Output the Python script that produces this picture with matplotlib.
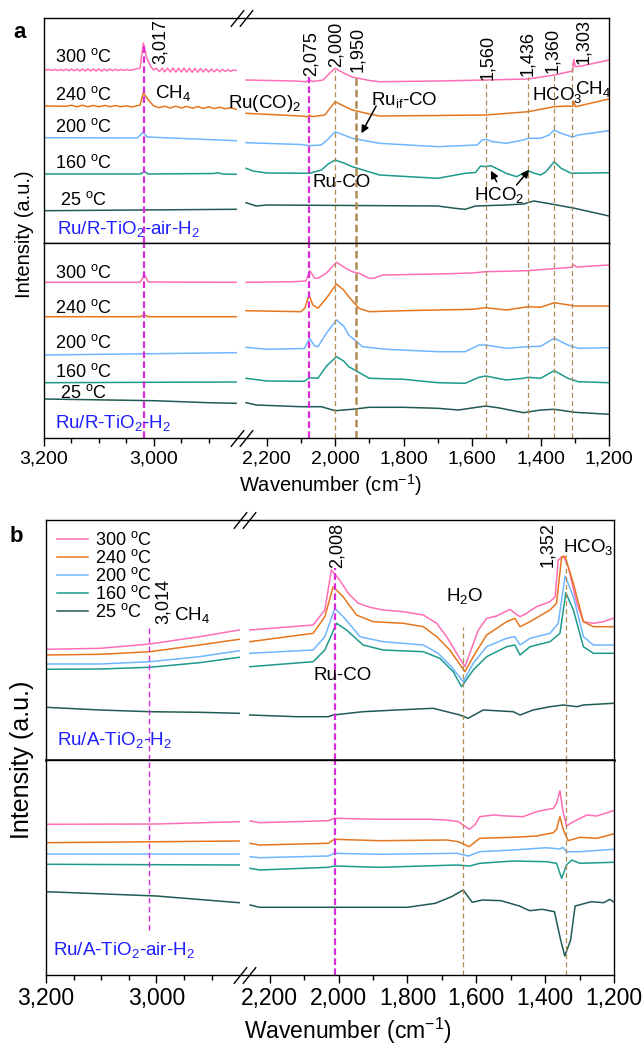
import numpy as np
import matplotlib
matplotlib.use('Agg')
import matplotlib.pyplot as plt
from matplotlib.ticker import FixedLocator, StrMethodFormatter

plt.rcParams['font.family'] = ['Liberation Sans', 'DejaVu Sans']
plt.rcParams['mathtext.fontset'] = 'custom'
plt.rcParams['mathtext.rm'] = 'Liberation Sans'
plt.rcParams['mathtext.it'] = 'Liberation Sans:italic'
plt.rcParams['mathtext.default'] = 'regular'

# ---------------- data (wavenumber cm-1, intensity a.u.) ----------------
temps = ['300', '240', '200', '160', '25']
colors = ['#FF6EB4', '#E6761E', '#6EB6FF', '#1E9A8C', '#1F5A55']

major_ticks = [3200, 3000, 2200, 2000, 1800, 1600, 1400, 1200]
minor_ticks = [3150, 3100, 3050, 2950, 2900, 2100, 1900, 1700, 1500, 1300]

# panel a, upper: Ru/R-TiO2-air-H2
a1_300_w = [3200, 3190, 3185, 3180, 3175, 3170, 3165, 3160, 3155, 3150, 3145, 3140,
            3135, 3130, 3125, 3120, 3115, 3110, 3105, 3100, 3095, 3090, 3085, 3080,
            3075, 3070, 3065, 3060, 3055, 3050, 3045, 3040, 3025, 3019, 3013, 3005,
            3000, 2995, 2990, 2985, 2980, 2975, 2970, 2965, 2960, 2955, 2950, 2945,
            2940, 2935, 2930, 2925, 2920, 2915, 2910, 2905, 2900, 2895, 2890, 2885,
            2880, 2875, 2870, 2865, 2860, 2855, 2850,
            2260, 2120, 2085, 2075, 2065, 2035, 2015, 2000, 1975, 1950, 1900, 1870, 1700,
            1560, 1436, 1360, 1320, 1306, 1303, 1298, 1280, 1200]
a1_300_i = [173, 173.4, 172.6, 173.5, 172.5, 173.6, 172.4, 173.8, 172.2, 173.9, 172.2, 174,
            172, 174, 172, 174.2, 172, 174, 172, 174.2, 171.8, 174, 172, 174,
            172.2, 173.8, 172.4, 173.6, 172.6, 173.4, 172.8, 173, 175, 200, 185, 176,
            173, 174.6, 171.4, 174.8, 171.2, 174.8, 171, 175, 171, 174.8, 171, 175,
            170.8, 174.8, 170.8, 174.6, 170.8, 174.4, 171, 174.2, 171, 174, 171.2, 173.8,
            171.2, 173.6, 171.4, 173.4, 171.6, 173, 172.5,
            163, 162, 161.3, 163, 161.5, 163, 170, 174.7, 170, 166, 162.5, 161.3, 162,
            163, 164, 168, 171, 172, 183.7, 176.3, 177, 183]
a1_240_w = [3200, 3160, 3150, 3140, 3130, 3120, 3110, 3100, 3090, 3080, 3070, 3060,
            3050, 3040, 3025, 3019, 3010, 3000, 2990, 2980, 2970, 2960, 2950, 2940,
            2930, 2920, 2910, 2900, 2890, 2880, 2870, 2860, 2850,
            2260, 2100, 2080, 2075, 2068, 2030, 2000, 1975, 1950, 1900, 1870, 1700,
            1560, 1436, 1360, 1320, 1306, 1303, 1298, 1200]
a1_240_i = [137, 136.8, 137.8, 136.2, 137.8, 136.2, 137.6, 136.2, 137.6, 136.3, 137.4, 136.3,
            137.2, 136, 138, 150.3, 143, 137, 135.4, 136.8, 135, 136.8, 135, 136.6,
            134.8, 136.4, 134.6, 136.2, 134.4, 135.8, 134.2, 135.2, 133.7,
            129.7, 127, 126.3, 128, 126.3, 128, 141.3, 137, 133, 129, 127, 127.5,
            128, 131.3, 136.3, 137, 136.5, 141.3, 136.3, 144]
a1_200_w = [3200, 3030, 3020, 3012, 2850,
            2260, 2100, 2075, 2040, 2020, 2000, 1975, 1950, 1870, 1700, 1585, 1570, 1560,
            1540, 1500, 1450, 1436, 1400, 1375, 1360, 1340, 1310, 1303, 1290, 1200]
a1_200_i = [105.3, 105, 110.7, 106, 102.3,
            100.3, 98.5, 97.3, 98, 104, 111.3, 108, 104.7, 99.7, 96.3, 98, 103, 103.7,
            101.3, 99.7, 103, 104.7, 104.7, 108, 113, 109.7, 106.3, 106.3, 108, 112.3]
a1_160_w = [3200, 3025, 3017, 3010, 2890, 2884, 2875, 2850,
            2260, 2240, 2200, 2075, 2040, 2020, 2000, 1975, 1950, 1870, 1700, 1620, 1590,
            1575, 1560, 1545, 1500, 1470, 1436, 1420, 1400, 1385, 1360, 1340, 1310, 1200]
a1_160_i = [69, 69, 71.3, 69, 69.5, 70.3, 69, 68.7,
            74.7, 72, 70, 69.7, 73, 79, 83, 80, 76.3, 68, 64.7, 69.7, 70.5,
            77, 76.3, 77.3, 69.7, 66.3, 72.3, 70, 68, 71, 81.3, 74.7, 69.7, 70.3]
a1_25_w = [3200, 2850,
           2260, 2230, 2200, 1700, 1650, 1620, 1590, 1500, 1450, 1420, 1380, 1300, 1200]
a1_25_i = [32.3, 33.7,
           40.3, 37, 38, 37, 34.7, 33.7, 37, 38, 39, 42, 39.7, 34.7, 27]

# panel a, lower: Ru/R-TiO2-H2
a2_300_w = [3200, 3025, 3017, 3010, 2850,
            2260, 2120, 2085, 2074, 2060, 2050, 2025, 1996, 1970, 1950, 1930, 1900, 1888,
            1860, 1700, 1600, 1560, 1436, 1310, 1303, 1295, 1200]
a2_300_i = [155.7, 155.7, 163, 156, 155.7,
            155.7, 156.3, 157, 167.3, 160, 159.7, 165, 175.7, 170, 166.3, 164.7, 159.7, 159.7,
            163, 164, 165, 166.3, 167.3, 170.7, 173, 171, 173]
a2_240_w = [3200, 3025, 3017, 3010, 2850,
            2260, 2100, 2088, 2076, 2065, 2050, 2025, 1996, 1975, 1960, 1930, 1900, 1800,
            1600, 1560, 1500, 1436, 1400, 1360, 1300, 1200]
a2_240_i = [121.3, 121.3, 123, 121.3, 121.3,
            127.3, 126.3, 130, 143, 133, 129.7, 140, 154, 148, 141.3, 129.7, 126.3, 127.3,
            128.7, 130.3, 128, 131.3, 130.7, 135.3, 132, 132]
a2_200_w = [3200, 2850,
            2260, 2200, 2090, 2074, 2060, 2050, 2025, 1996, 1975, 1960, 1920, 1850, 1700,
            1620, 1580, 1560, 1500, 1436, 1400, 1360, 1320, 1290, 1200]
a2_200_i = [83, 85.3,
            90.7, 88.7, 89.5, 99.7, 92, 91.3, 105, 118, 112, 103, 91.3, 88.7, 86.3,
            86.3, 93, 93, 89.7, 91.3, 91.7, 99.7, 93, 89.7, 90.3]
a2_160_w = [3200, 2850,
            2260, 2200, 2090, 2074, 2050, 2025, 1996, 1975, 1960, 1900, 1800, 1700, 1620,
            1580, 1560, 1500, 1450, 1436, 1400, 1360, 1320, 1290, 1200]
a2_160_i = [55.3, 56,
            59.7, 57, 56.7, 60.3, 59.7, 72, 81.3, 77, 71.3, 59.7, 58.7, 55.3, 54.7,
            60.7, 62, 58, 59.7, 60.7, 59.7, 67.3, 59.7, 56.3, 55.3]
a2_25_w = [3200, 3000, 2900, 2850,
           2260, 2230, 2100, 2040, 2000, 1950, 1900, 1800, 1700, 1640, 1600, 1560, 1520,
           1450, 1400, 1360, 1300, 1200]
a2_25_i = [39, 37.3, 35.3, 34.7,
           35.3, 33, 31.3, 31.3, 27.3, 28.7, 30.7, 30.7, 29.7, 28, 30, 32, 30,
           25.3, 28, 28.7, 25.7, 23.7]

# panel b, upper: Ru/A-TiO2-H2
b1_300_w = [3200, 3102, 3012, 2922, 2850,
            2258, 2074, 2040, 2021, 1997, 1972, 1943, 1909, 1871, 1812, 1754, 1715, 1686,
            1657, 1633, 1619, 1594, 1570, 1541, 1502, 1488, 1473, 1454, 1425, 1386, 1371,
            1362, 1347, 1333, 1308, 1289, 1260, 1231, 1202]
b1_300_i = [110.7, 111.7, 116, 123.3, 130,
            130, 135, 150, 190, 180, 166.7, 156.7, 152.7, 150, 148.3, 145, 136.7, 123.3,
            106.7, 93.3, 106.7, 130, 141.7, 144, 150.7, 146.7, 143.3, 146.7, 153.3, 158.3, 163.3,
            200, 204, 193.3, 156.7, 138.3, 136.7, 138.3, 141.7]
b1_240_w = [3200, 3102, 3012, 2922, 2850,
            2258, 2074, 2040, 2016, 1987, 1948, 1900, 1812, 1754, 1715, 1677, 1633, 1609,
            1570, 1512, 1488, 1473, 1444, 1386, 1367, 1352, 1342, 1318, 1289, 1260, 1202]
b1_240_i = [105, 105.7, 108.3, 115, 120.7,
            118.3, 126.7, 143.3, 173.3, 163.3, 145, 138.3, 136.7, 133.3, 123.3, 110, 88.3, 103.3,
            125, 138.3, 141.7, 133.3, 138.3, 150, 156.7, 203.3, 203.3, 176.7, 138.3, 133.3, 133.3]
b1_200_w = [3200, 3102, 3012, 2922, 2850,
            2258, 2074, 2040, 2011, 1982, 1938, 1871, 1754, 1711, 1672, 1638, 1609, 1570,
            1512, 1488, 1473, 1444, 1386, 1362, 1342, 1318, 1289, 1260, 1202]
b1_200_i = [96, 96, 98.3, 103.3, 109.3,
            106.7, 110, 123.3, 151.7, 141.7, 123.3, 118.3, 115, 106.7, 93.3, 78.3, 96.7, 113.3,
            121.7, 123.3, 115, 121.7, 126.7, 136.7, 184, 163.3, 123.3, 115, 115]
b1_160_w = [3200, 3102, 3012, 2922, 2850,
            2258, 2074, 2040, 2006, 1977, 1929, 1871, 1754, 1706, 1667, 1643, 1609, 1570,
            1512, 1488, 1473, 1444, 1386, 1357, 1340, 1318, 1289, 1260, 1202]
b1_160_i = [90.7, 91, 92.7, 97.3, 102.7,
            93.3, 98.3, 110, 136.7, 130, 115, 110, 108.3, 101.7, 88.3, 73.3, 90, 103.3,
            113.3, 115, 105, 113.3, 118.3, 126.7, 167.3, 150, 113.3, 106.7, 106.7]
b1_25_w = [3200, 3102, 3012, 2922, 2850,
           2258, 2122, 2030, 2016, 1929, 1832, 1725, 1648, 1624, 1580, 1493, 1473, 1435,
           1386, 1347, 1308, 1289, 1202]
b1_25_i = [52.7, 50, 48.3, 47.7, 46.7,
           45, 43.3, 43.3, 45, 48.3, 50, 51.7, 45, 41.7, 50, 48.3, 45, 50,
           53.3, 55, 53.3, 55, 56.7]

# panel b, lower: Ru/A-TiO2-air-H2
b2_300_w = [3200, 3000, 2850,
            2257, 2230, 2030, 2013, 1880, 1735, 1686, 1652, 1638, 1621, 1604, 1590, 1551,
            1512, 1464, 1425, 1376, 1367, 1357, 1349, 1338, 1318, 1279, 1250, 1202]
b2_300_i = [150.7, 151, 153.3,
            154, 152.3, 154.3, 156.7, 155.7, 155.7, 155, 153.3, 150, 145.7, 150, 158.3, 160,
            159, 158.3, 163.3, 166.7, 171.7, 184.3, 165, 149, 153.3, 160, 159, 164.3]
b2_240_w = [3200, 2850,
            2257, 2230, 2030, 2013, 1880, 1686, 1652, 1621, 1590, 1493, 1425, 1376, 1367,
            1357, 1347, 1333, 1299, 1250, 1202]
b2_240_i = [132.3, 134,
            131.7, 130, 131.7, 135.7, 134.3, 135, 133.3, 128.3, 136.7, 137.7, 139, 142.3, 145.7,
            158.3, 145, 134.3, 137.7, 136.7, 141]
b2_200_w = [3200, 2850,
            2257, 2230, 2030, 2013, 1880, 1657, 1623, 1590, 1493, 1396, 1357, 1349, 1338,
            1299, 1202]
b2_200_i = [121, 121,
            118.3, 117.3, 119, 121.7, 120.7, 121.7, 119, 123.3, 125, 127.3, 126, 127.7, 123.3,
            123.3, 125.7]
b2_160_w = [3200, 2850,
            2257, 2230, 2030, 2013, 1880, 1657, 1619, 1590, 1493, 1396, 1367, 1352, 1338,
            1323, 1299, 1202]
b2_160_i = [110.7, 110,
            106.7, 105, 107.7, 109, 107.7, 110, 109, 111.7, 114, 113.3, 111.7, 96.7, 110,
            115, 111.7, 112.7]
b2_25_w = [3200, 3000, 2850,
           2257, 2230, 2030, 1800, 1719, 1672, 1638, 1612, 1582, 1528, 1475, 1445, 1409,
           1373, 1355, 1343, 1326, 1313, 1266, 1230, 1212, 1200]
b2_25_i = [83.3, 79, 72.3,
           70, 67.7, 67.7, 67.7, 71.7, 78.3, 85, 72.7, 75, 74.3, 69, 64.3, 65.7,
           63.3, 35, 19, 35, 69, 73.3, 72.3, 75.7, 72.7]

a1_curves = [(a1_300_w, a1_300_i), (a1_240_w, a1_240_i), (a1_200_w, a1_200_i),
             (a1_160_w, a1_160_i), (a1_25_w, a1_25_i)]
a2_curves = [(a2_300_w, a2_300_i), (a2_240_w, a2_240_i), (a2_200_w, a2_200_i),
             (a2_160_w, a2_160_i), (a2_25_w, a2_25_i)]
b1_curves = [(b1_300_w, b1_300_i), (b1_240_w, b1_240_i), (b1_200_w, b1_200_i),
             (b1_160_w, b1_160_i), (b1_25_w, b1_25_i)]
b2_curves = [(b2_300_w, b2_300_i), (b2_240_w, b2_240_i), (b2_200_w, b2_200_i),
             (b2_160_w, b2_160_i), (b2_25_w, b2_25_i)]

# temperature label heights in panel a
a1_label_y = [186, 148, 116, 80, 43]
a2_label_y = [165, 130, 95, 66, 45]

# ---------------- broken x axis (3200-2850 | 2260-1200) ----------------
BRK_W = [1200, 2260, 2850, 3200]
BRK_U = [0.0, 363.6, 373.5, 566.0]


def fwd(w):
    return np.interp(np.asarray(w, float), BRK_W, BRK_U)


def inv(u):
    return np.interp(np.asarray(u, float), BRK_U, BRK_W)


MAGENTA = '#D92BD9'
BROWN = '#B08A52'
BLUE = '#1E1EFF'

W, H = 644, 1046
fig = plt.figure(figsize=(W / 100, H / 100), dpi=100)


def box(l, r, t, b):
    return fig.add_axes([l / W, 1 - b / H, (r - l) / W, (b - t) / H])


def setup(ax, ymax, bottom, tick_fs=14, tlen=5):
    ax.set_xscale('function', functions=(fwd, inv))
    ax.set_xlim(3200, 1200)
    ax.set_ylim(0, ymax)
    ax.set_yticks([])
    for s in ax.spines.values():
        s.set_linewidth(1.0)
    if bottom:
        ax.xaxis.set_major_locator(FixedLocator(major_ticks))
        ax.xaxis.set_minor_locator(FixedLocator(minor_ticks))
        ax.xaxis.set_major_formatter(StrMethodFormatter('{x:,.0f}'))
        ax.tick_params(axis='x', which='major', direction='out', length=tlen,
                       width=1, labelsize=tick_fs, pad=3)
        ax.tick_params(axis='x', which='minor', direction='out', length=tlen * 0.6, width=1)
    else:
        ax.tick_params(axis='x', which='both', bottom=False, labelbottom=False)


def draw(ax, curves):
    hs = []
    for (w, i), c in zip(curves, colors):
        w = np.asarray(w, float)
        i = np.asarray(i, float)
        left = w >= 2850
        right = w <= 2260
        h, = ax.plot(w[left], i[left], color=c, lw=1.1)
        ax.plot(w[right], i[right], color=c, lw=1.1)
        hs.append(h)
    return hs


def breakmark(ax, y):
    for dx in (-0.008, 0.008):
        ax.plot([0.349 + dx], [y], marker=[(-0.8, -1), (0.8, 1)], markersize=12,
                mec='k', mew=1.0, ls='none', transform=ax.transAxes, clip_on=False)


def vline(ax, x, ymax_frac, color, lw, dash):
    ax.axvline(x, ymin=0, ymax=ymax_frac, color=color, lw=lw, ls=(0, dash))


# ---------------- panel a ----------------
ax1 = box(44, 609, 18, 243)
ax2 = box(44, 609, 243, 438)
setup(ax1, 225, False)
setup(ax2, 195, True, tick_fs=14, tlen=6)
draw(ax1, a1_curves)
draw(ax2, a2_curves)
breakmark(ax1, 1.0)
breakmark(ax2, 0.0)

for t, y in zip(temps, a1_label_y):
    ax1.text(3128, y, t + ' $^{o}$C', fontsize=13, ha='center', va='center')
for t, y in zip(temps, a2_label_y):
    ax2.text(3128, y, t + ' $^{o}$C', fontsize=13, ha='center', va='center')
ax1.text(3176, 14, 'Ru/R-TiO$_2$-air-H$_2$', color=BLUE, fontsize=13.5, va='center')
ax2.text(3180, 15, 'Ru/R-TiO$_2$-H$_2$', color=BLUE, fontsize=13.5, va='center')

# peak markers (upper sub-panel start heights)
a_lines = [(3017, 198, MAGENTA, 1.6, (3, 1.5)), (2075, 166, MAGENTA, 1.6, (3, 1.5)),
           (2000, 173, BROWN, 0.9, (4, 2.5)), (1940, 166, BROWN, 1.8, (3, 1.5)),
           (1560, 163, BROWN, 0.9, (4, 2.5)), (1436, 166, BROWN, 0.9, (4, 2.5)),
           (1360, 171, BROWN, 0.9, (4, 2.5)), (1307, 180, BROWN, 0.9, (4, 2.5))]
for x, ytop, c, lw, d in a_lines:
    vline(ax1, x, ytop / 225, c, lw, d)
    vline(ax2, x, 1, c, lw, d)

a_nums = [('3,017', 2989, 201), ('2,075', 2071, 189), ('2,000', 1996, 199),
          ('1,950', 1934, 194), ('1,560', 1554, 186), ('1,436', 1437, 190),
          ('1,360', 1364, 193), ('1,303', 1273, 202)]
for s, x, y in a_nums:
    ax1.text(x, y, s, rotation=90, fontsize=13, ha='center', va='center')

ax1.text(2997, 150, 'CH$_4$', fontsize=13.5, va='center')
ax1.text(2098, 140, 'Ru(CO)$_2$', fontsize=13.5, ha='right', va='center')
ax1.text(1894, 143, 'Ru$_{if}$-CO', fontsize=13.5, va='center')
ax1.text(1426, 148, 'HCO$_3$', fontsize=13.5, va='center')
ax1.text(1299, 154, 'CH$_4$', fontsize=13.5, va='center')
ax1.text(1981, 60, 'Ru-CO', fontsize=13.5, ha='center', va='center')
ax1.text(1522, 48, 'HCO$_2$', fontsize=13.5, ha='center', va='center')
arrow = dict(arrowstyle='-|>', color='k', lw=1.1, mutation_scale=11, shrinkA=0, shrinkB=0)
ax1.annotate('', xy=(1923, 109.7), xytext=(1880, 137), arrowprops=arrow)
ax1.annotate('', xy=(1545, 72.3), xytext=(1528, 61.3), arrowprops=arrow)
ax1.annotate('', xy=(1433, 73), xytext=(1470, 58), arrowprops=arrow)

fig.text(20 / W, 1 - 33 / H, 'a', fontsize=16, fontweight='bold', ha='center', va='center')
fig.text(24 / W, 1 - 234 / H, 'Intensity (a.u.)', rotation=90, fontsize=14.5,
         ha='center', va='center')
fig.text(330 / W, 1 - 485 / H, 'Wavenumber (cm$^{-1}$)', fontsize=14.5,
         ha='center', va='center')

# ---------------- panel b ----------------
bx1 = box(46, 614, 520, 760)
bx2 = box(46, 614, 760, 975)
setup(bx1, 240, False)
setup(bx2, 215, True, tick_fs=16.5, tlen=6)
bx1.spines['bottom'].set_linewidth(1.8)
hs = draw(bx1, b1_curves)
draw(bx2, b2_curves)
breakmark(bx1, 1.0)
breakmark(bx2, 0.0)

bx1.legend(hs, [t + ' $^{o}$C' for t in temps], loc='upper left', frameon=False,
           fontsize=13, handlelength=1.75, handletextpad=0.35, labelspacing=0.0,
           borderaxespad=0.2, bbox_to_anchor=(0.0, 1.0))

b_lines = [(3014, 133, 45, MAGENTA, 1.0, (4, 2.5)), (2010, 192, 0, MAGENTA, 1.6, (3, 1.5)),
           (1639, 133, 0, BROWN, 0.9, (4, 2.5)), (1340, 205, 0, BROWN, 0.9, (4, 2.5))]
for x, ytop, ybot, c, lw, d in b_lines:
    vline(bx1, x, ytop / 240, c, lw, d)
    bx2.axvline(x, ymin=ybot / 215, ymax=1, color=c, lw=lw, ls=(0, d))

bx1.text(2988, 158, '3,014', rotation=90, fontsize=13, ha='center', va='center')
bx1.text(2968, 145, 'CH$_4$', fontsize=13.5, va='center')
bx1.text(2005, 215, '2,008', rotation=90, fontsize=13, ha='center', va='center')
bx1.text(1392, 215, '1,352', rotation=90, fontsize=13, ha='center', va='center')
bx1.text(1348, 213, 'HCO$_3$', fontsize=13.5, va='center')
bx1.text(1633, 164, 'H$_2$O', fontsize=13.5, ha='center', va='center')
bx1.text(1989, 85, 'Ru-CO', fontsize=13.5, ha='center', va='center')
bx1.text(3180, 20, 'Ru/A-TiO$_2$-H$_2$', color=BLUE, fontsize=13.5, va='center')
bx2.text(3187, 25, 'Ru/A-TiO$_2$-air-H$_2$', color=BLUE, fontsize=13.5, va='center')

fig.text(16 / W, 1 - 537 / H, 'b', fontsize=16, fontweight='bold', ha='center', va='center')
fig.text(22 / W, 1 - 760 / H, 'Intensity (a.u.)', rotation=90, fontsize=18,
         ha='center', va='center')
fig.text(348 / W, 1 - 1031 / H, 'Wavenumber (cm$^{-1}$)', fontsize=16.5,
         ha='center', va='center')

fig.savefig('out.png', dpi=100)
